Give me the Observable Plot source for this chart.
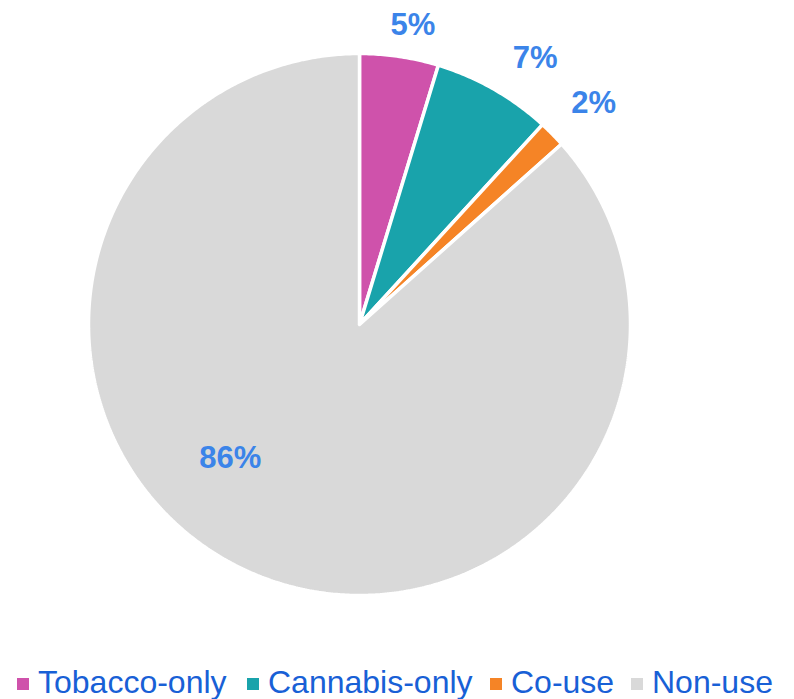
<!DOCTYPE html>
<html>
<head>
<meta charset="utf-8">
<script src="https://cdn.jsdelivr.net/npm/d3@7"></script>
<script src="https://cdn.jsdelivr.net/npm/@observablehq/plot@0.6"></script>
<style>
  html, body { margin: 0; padding: 0; background: #fff; }
  #wrap { position: relative; width: 794px; height: 699px; overflow: hidden; }
  #legend { position: relative; height: 49px; font-family: "Liberation Sans", Arial, sans-serif; font-size: 32px; color: #1860d6; }
  .item { position: absolute; top: 16px; display: flex; align-items: center; line-height: 32px; white-space: nowrap; }
  .sw { width: 12px; height: 12px; margin-right: 9px; margin-top: 4px; }
</style>
</head>
<body>
<div id="wrap">
  <div id="chart"></div>
  <div id="legend"></div>
</div>
<script>
// ---- data ----
const categories = ["Tobacco-only", "Cannabis-only", "Co-use", "Non-use"];
const shares = [4.7, 7.1, 1.6, 86.6];
const shareLabels = ["5%", "7%", "2%", "86%"];
const colors = ["#cf52ab", "#19a3ab", "#f58426", "#d9d9d9"];

// ---- layout ----
const W = 794, H = 650, CX = 359, CY = 324, R = 271;
const legendLeft = [17, 247, 490, 631];

const pie = d3.pie().sort(null).value(d => d.share);
const arcs = pie(categories.map((c, i) => ({cat: c, share: shares[i], label: shareLabels[i]})));

// polygon points for each slice (unit radius, y up)
const pts = [];
arcs.forEach(a => {
  const cat = a.data.cat;
  pts.push({cat, x: 0, y: 0});
  const n = Math.max(2, Math.ceil((a.endAngle - a.startAngle) / (Math.PI / 360)));
  for (let k = 0; k <= n; k++) {
    const t = a.startAngle + (a.endAngle - a.startAngle) * k / n;
    pts.push({cat, x: Math.sin(t), y: Math.cos(t)});
  }
  pts.push({cat, x: 0, y: 0});
});

// label positions: small slices outside (offset from rim), large slice inside
const deg = Math.PI / 180;
const labelData = arcs.map(a => {
  const mid = (a.startAngle + a.endAngle) / 2;
  if (a.data.share > 50) {
    const ang = mid + 20 * deg, rr = 0.685;
    return {label: a.data.label, x: rr * Math.sin(ang), y: rr * Math.cos(ang)};
  }
  const s = Math.sin(mid);
  const dx = 42 * Math.min(1, s / 0.45), dy = 32; // px offsets from rim point
  return {label: a.data.label, x: Math.sin(mid) * (270 / R) + dx / R, y: Math.cos(mid) * (270 / R) + dy / R};
});

const chart = Plot.plot({
  width: W,
  height: H,
  margin: 0,
  x: {domain: [-CX / R, (W - CX) / R], axis: null},
  y: {domain: [-(H - CY) / R, CY / R], axis: null},
  color: {domain: categories, range: colors},
  marks: [
    Plot.line(pts, {x: "x", y: "y", z: "cat", fill: "cat", stroke: "white", strokeWidth: 3.5, strokeLinejoin: "miter", curve: "linear"}),
    Plot.text(labelData, {x: "x", y: "y", text: "label", fontSize: 31, fontWeight: "bold", fill: "#3b84e9", fontFamily: "Liberation Sans, Arial, sans-serif", stroke: null})
  ]
});
chart.style.display = "block";
document.getElementById("chart").appendChild(chart);

const legend = document.getElementById("legend");
categories.forEach((c, i) => {
  const it = document.createElement("div");
  it.className = "item";
  it.style.left = legendLeft[i] + "px";
  const sw = document.createElement("span");
  sw.className = "sw";
  sw.style.background = colors[i];
  const tx = document.createElement("span");
  tx.textContent = c;
  it.appendChild(sw);
  it.appendChild(tx);
  legend.appendChild(it);
});
</script>
</body>
</html>
